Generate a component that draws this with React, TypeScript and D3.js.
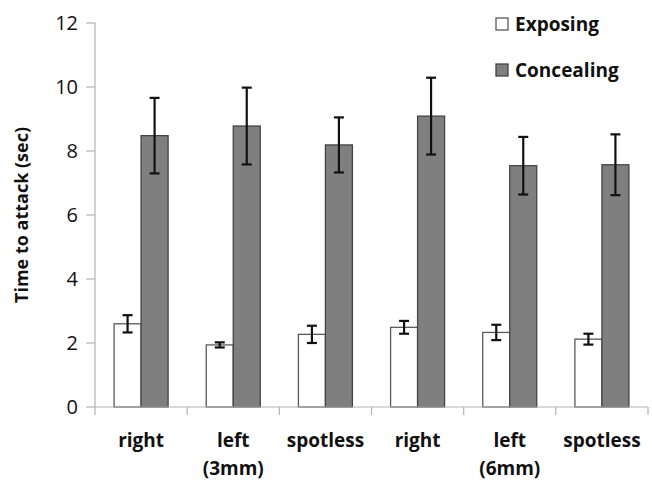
import React from 'react'
import * as d3 from 'd3'

// group labels (two lines where needed)
const groups = ['right', 'left\n(3mm)', 'spotless', 'right', 'left\n(6mm)', 'spotless']
const exposing = [2.6, 1.94, 2.27, 2.49, 2.33, 2.12]
const exposingErr = [0.27, 0.08, 0.27, 0.2, 0.24, 0.17]
const concealing = [8.48, 8.78, 8.19, 9.09, 7.54, 7.57]
const concealingErr = [1.18, 1.2, 0.86, 1.2, 0.9, 0.95]
const yTicks = [0, 2, 4, 6, 8, 10, 12]
const seriesNames = ['Exposing', 'Concealing']

const width = 652
const height = 480
const marginLeft = 95
const marginRight = 4
const marginTop = 23
const marginBottom = 73

export default function App() {
    const font = '"Open Sans", "Liberation Sans", sans-serif'

    const xScale = d3.scaleBand<number>()
        .domain(groups.map((_, i) => i))
        .range([marginLeft, width - marginRight])

    const yScale = d3.scaleLinear()
        .domain([0, 12])
        .range([height - marginBottom, marginTop])

    const barW = 27
    const y0 = yScale(0)

    const series = [
        { name: seriesNames[0], vals: exposing, errs: exposingErr, fill: '#ffffff', stroke: '#5a5a5a', offset: -barW },
        { name: seriesNames[1], vals: concealing, errs: concealingErr, fill: '#7f7f7f', stroke: '#444444', offset: 0 },
    ]

    const bandEdges = groups.map((_, i) => xScale(i)!).concat([width - marginRight])

    return (
        <svg width={width} height={height} style={{ position: 'absolute', left: 0, top: 0, background: '#fff' }}>
            {/* y axis */}
            <line x1={marginLeft} x2={marginLeft} y1={marginTop} y2={y0} stroke="#b3b3b3" strokeWidth={1.2} />
            {yTicks.map(t => (
                <g key={t}>
                    <line x1={marginLeft - 9} x2={marginLeft} y1={yScale(t)} y2={yScale(t)} stroke="#b3b3b3" strokeWidth={1.2} />
                    <text x={marginLeft - 17} y={yScale(t)} dy="0.36em" textAnchor="end"
                        fontFamily={font} fontSize={20} fill="#111">{t}</text>
                </g>
            ))}
            <text transform={`translate(28,${(marginTop + y0) / 2}) rotate(-90)`} textAnchor="middle"
                fontFamily={font} fontSize={18} fontWeight="bold" fill="#111">Time to attack (sec)</text>

            {/* bars */}
            {series.map(s => s.vals.map((v, i) => {
                const cx = xScale(i)! + xScale.bandwidth() / 2
                return (
                    <rect key={s.name + i} x={cx + s.offset} y={yScale(v)} width={barW} height={y0 - yScale(v)}
                        fill={s.fill} stroke={s.stroke} strokeWidth={1.3} />
                )
            }))}

            {/* error bars */}
            {series.map(s => s.vals.map((v, i) => {
                const cx = xScale(i)! + xScale.bandwidth() / 2 + s.offset + barW / 2
                const hi = yScale(v + s.errs[i])
                const lo = yScale(v - s.errs[i])
                return (
                    <g key={'e' + s.name + i} stroke="#111" strokeWidth={2.2}>
                        <line x1={cx} x2={cx} y1={hi} y2={lo} />
                        <line x1={cx - 5} x2={cx + 5} y1={hi} y2={hi} />
                        <line x1={cx - 5} x2={cx + 5} y1={lo} y2={lo} />
                    </g>
                )
            }))}

            {/* x axis */}
            <line x1={marginLeft} x2={width - marginRight} y1={y0} y2={y0} stroke="#b3b3b3" strokeWidth={1.2} />
            {bandEdges.map((x, i) => (
                <line key={'t' + i} x1={x} x2={x} y1={y0} y2={y0 + 8} stroke="#b3b3b3" strokeWidth={1.2} />
            ))}
            {groups.map((g, i) => {
                const cx = xScale(i)! + xScale.bandwidth() / 2
                return (
                    <text key={'l' + i} x={cx} y={y0 + 40} textAnchor="middle" fontFamily={font}
                        fontSize={19} fontWeight="bold" fill="#111">
                        {g.split('\n').map((line, j) => (
                            <tspan key={j} x={cx} dy={j === 0 ? 0 : 28}>{line}</tspan>
                        ))}
                    </text>
                )
            })}

            {/* legend */}
            {series.map((s, i) => (
                <g key={'lg' + i} transform={`translate(496,${18 + i * 46})`}>
                    <rect width={12} height={12} fill={s.fill} stroke={s.stroke} strokeWidth={1.3} />
                    <text x={19} y={6} dy="0.36em" fontFamily={font} fontSize={19} fontWeight="bold" fill="#111">{s.name}</text>
                </g>
            ))}
        </svg>
    )
}
